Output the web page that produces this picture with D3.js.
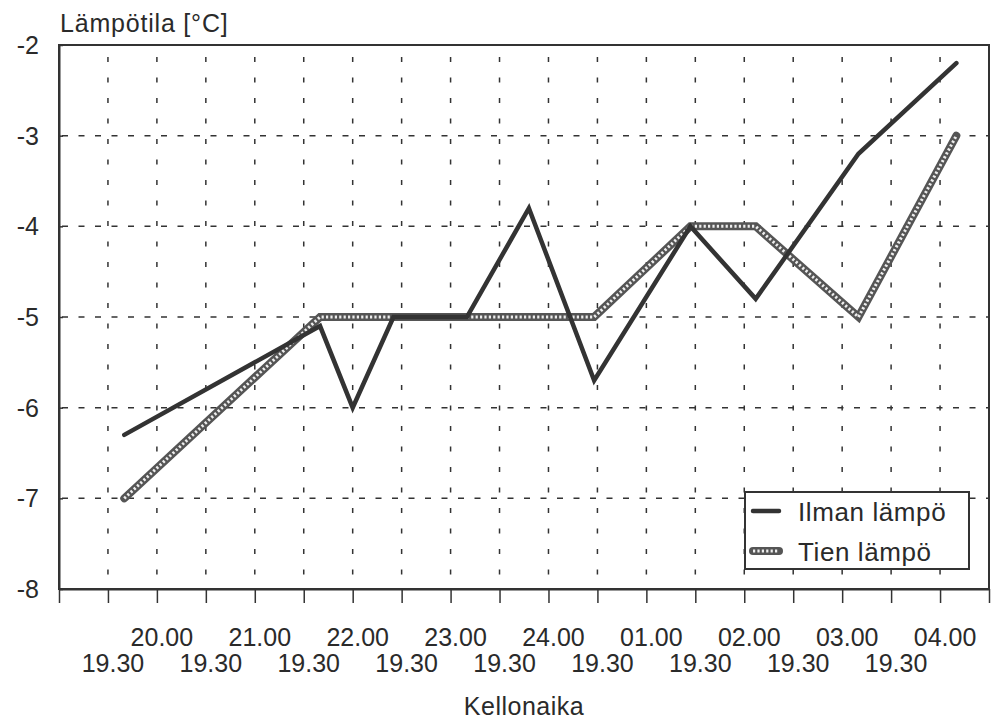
<!DOCTYPE html>
<html>
<head>
<meta charset="utf-8">
<script src="https://cdn.jsdelivr.net/npm/d3@7"></script>
<style>
  body { margin: 0; background: #fff; }
  text { font-family: "Liberation Sans", Arial, Helvetica, sans-serif; fill: #2a2a2a; }
</style>
</head>
<body>
<svg id="chart" width="998" height="726"></svg>
<script>
// ---- data ----
const times = [40, 160, 180, 205, 250, 288, 328, 387, 427, 490, 550]; // minutes after 19.00
const ilmanLampo = [-6.3, -5.1, -6.0, -5.0, -5.0, -3.8, -5.7, -4.0, -4.8, -3.2, -2.2];
const tienLampo  = [-7.0, -5.0, -5.0, -5.0, -5.0, -5.0, -5.0, -4.0, -4.0, -5.0, -3.0];
const yTicks = [-8, -7, -6, -5, -4, -3, -2];
const hourLabels = ["20.00", "21.00", "22.00", "23.00", "24.00", "01.00", "02.00", "03.00", "04.00"];
const dateLabels = ["19.30", "19.30", "19.30", "19.30", "19.30", "19.30", "19.30", "19.30", "19.30"];
const seriesNames = ["Ilman lämpö", "Tien lämpö"];
const yTitle = "Lämpötila [°C]";
const xTitle = "Kellonaika";

// ---- layout ----
const L = 59, R = 989, T = 45, B = 589;
const dark = "#333";
const svg = d3.select("#chart");
const x = d3.scaleLinear().domain([0, 570]).range([L, R]);
const y = d3.scaleLinear().domain([-8, -2]).range([B, T]);
const tickVals = d3.range(0, 571, 30);

// grid
const grid = svg.append("g");
grid.selectAll("line.v").data(tickVals.slice(1, -1)).enter().append("line")
  .attr("x1", d => x(d)).attr("x2", d => x(d)).attr("y1", T).attr("y2", B)
  .attr("stroke", dark).attr("stroke-width", 1.5)
  .attr("stroke-dasharray", "5,15.5").attr("stroke-dashoffset", -12);
grid.selectAll("line.h").data(yTicks.slice(1, -1)).enter().append("line")
  .attr("x1", L).attr("x2", R).attr("y1", d => y(d)).attr("y2", d => y(d))
  .attr("stroke", dark).attr("stroke-width", 1.5)
  .attr("stroke-dasharray", "6,10.5").attr("stroke-dashoffset", -3);

// frame
svg.append("rect").attr("x", L).attr("y", T).attr("width", R - L).attr("height", B - T)
  .attr("fill", "none").attr("stroke", dark).attr("stroke-width", 2);

// x axis
const xAxis = d3.axisBottom(x).tickValues(tickVals).tickFormat("").tickSize(14).tickSizeOuter(0);
const gx = svg.append("g").attr("transform", `translate(0,${B})`).call(xAxis);
gx.select(".domain").attr("stroke", dark).attr("stroke-width", 2);
gx.selectAll(".tick line").attr("stroke", dark).attr("stroke-width", 1.5);

// y axis
const yAxis = d3.axisLeft(y).tickValues(yTicks).tickSize(-4).tickSizeOuter(0).tickPadding(0).tickFormat("");
const gy = svg.append("g").attr("transform", `translate(${L},0)`).call(yAxis);
gy.select(".domain").attr("stroke", dark).attr("stroke-width", 2);
gy.selectAll(".tick line").attr("stroke", dark).attr("stroke-width", 1.5);

svg.append("g").selectAll("text").data(yTicks).enter().append("text")
  .attr("x", 39).attr("y", d => y(d)).attr("dy", "0.36em")
  .attr("text-anchor", "end").attr("font-size", 25).text(d => d3.format("d")(d).replace("−", "-"));

// x labels
const lblOff = 5;
svg.append("g").selectAll("text").data(hourLabels).enter().append("text")
  .attr("x", (d, i) => x(60 + i * 60) + lblOff).attr("y", 646)
  .attr("text-anchor", "middle").attr("font-size", 25).text(d => d);
svg.append("g").selectAll("text").data(dateLabels).enter().append("text")
  .attr("x", (d, i) => x(30 + i * 60) + lblOff).attr("y", 672)
  .attr("text-anchor", "middle").attr("font-size", 25).text(d => d);

// titles
svg.append("text").attr("x", 60).attr("y", 32).attr("font-size", 25).attr("letter-spacing", 0.8).text(yTitle);
svg.append("text").attr("x", (L + R) / 2).attr("y", 715).attr("text-anchor", "middle")
  .attr("font-size", 25).attr("letter-spacing", 0.5).text(xTitle);

// lines
const lineGen = d3.line().x(d => x(d[0])).y(d => y(d[1]));
const ilmanPts = times.map((t, i) => [t, ilmanLampo[i]]);
const tienPts = times.map((t, i) => [t, tienLampo[i]]);

function drawTien(sel, d) {
  sel.append("path").attr("d", d).attr("fill", "none").attr("stroke", "#555")
    .attr("stroke-width", 8).attr("stroke-linejoin", "miter").attr("stroke-linecap", "round");
  sel.append("path").attr("d", d).attr("fill", "none").attr("stroke", "#eee")
    .attr("stroke-width", 3).attr("stroke-dasharray", "2.2,2.2").attr("stroke-linejoin", "miter");
}
function drawIlman(sel, d) {
  sel.append("path").attr("d", d).attr("fill", "none").attr("stroke", dark)
    .attr("stroke-width", 4.5).attr("stroke-linejoin", "miter").attr("stroke-linecap", "round");
}
drawTien(svg.append("g"), lineGen(tienPts));
drawIlman(svg.append("g"), lineGen(ilmanPts));

// legend
const lg = svg.append("g");
lg.append("rect").attr("x", 745).attr("y", 492).attr("width", 224).attr("height", 77)
  .attr("fill", "#fff").attr("stroke", dark).attr("stroke-width", 2);
drawIlman(lg, "M753,511L779,511");
drawTien(lg, "M753,551L779,551");
lg.selectAll("text").data(seriesNames).enter().append("text")
  .attr("x", 798).attr("y", (d, i) => 521 + i * 40).attr("font-size", 26).attr("letter-spacing", 0.6).text(d => d);
</script>
</body>
</html>
